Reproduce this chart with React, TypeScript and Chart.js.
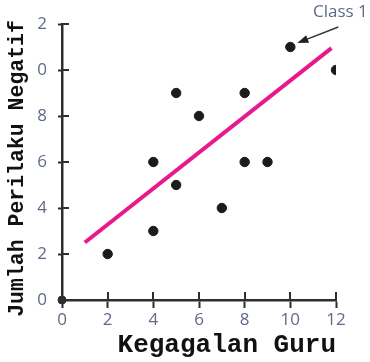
import React, { useEffect, useRef } from 'react';
import { Chart, registerables } from 'chart.js';

Chart.register(...registerables);

// ---- data ----
const xTickLabels = ['0', '2', '4', '6', '8', '10', '12'];
const yTickLabels = ['0', '2', '4', '6', '8', '0', '2'];
const teacherFailures = [2, 4, 4, 5, 5, 6, 7, 8, 8, 9, 10, 12];
const negativeBehaviours = [2, 3, 6, 5, 9, 8, 4, 9, 6, 6, 11, 10];
const trendX = [1, 11.8];
const trendY = [2.5, 10.95];
const originX = [0];
const originY = [0];
const annotationLabel = 'Class 1';
const annotatedIndex = 10;
const xTitle = 'Kegagalan Guru';
const yTitle = 'Jumlah Perilaku Negatif ';

const AXIS = '#2e2e2e';
const LABEL = '#5d6a88';
const DOT = '#1b1b1b';
const PINK = '#e8198b';

const innerTicks = {
  id: 'innerTicks',
  beforeDatasetsDraw(chart: any) {
    const { ctx, chartArea } = chart;
    const x = chart.scales.x;
    const y = chart.scales.y;
    ctx.save();
    ctx.strokeStyle = AXIS;
    ctx.lineWidth = 2;
    x.ticks.forEach((t: any) => {
      if (t.value === 0) return;
      const px = Math.round(x.getPixelForValue(t.value));
      ctx.beginPath();
      ctx.moveTo(px, chartArea.bottom);
      ctx.lineTo(px, chartArea.bottom - 8);
      ctx.stroke();
    });
    y.ticks.forEach((t: any) => {
      if (t.value === 0) return;
      const py = Math.round(y.getPixelForValue(t.value));
      ctx.beginPath();
      ctx.moveTo(chartArea.left, py);
      ctx.lineTo(chartArea.left + 7, py);
      ctx.stroke();
    });
    ctx.restore();
  },
};

const annotation = {
  id: 'annotation',
  afterDatasetsDraw(chart: any) {
    const meta = chart.getDatasetMeta(0);
    const el = meta.data[annotatedIndex];
    if (!el) return;
    const { ctx } = chart;
    const tipX = el.x + 7;
    const tipY = el.y - 4;
    const tailX = el.x + 48;
    const tailY = el.y - 20;
    ctx.save();
    ctx.strokeStyle = '#333';
    ctx.fillStyle = '#222';
    ctx.lineWidth = 1.4;
    ctx.beginPath();
    ctx.moveTo(tailX, tailY);
    ctx.lineTo(tipX + 6, tipY - 2.4);
    ctx.stroke();
    const ang = Math.atan2(tipY - tailY, tipX - tailX);
    const len = 11;
    const half = 4;
    const bx = tipX - len * Math.cos(ang);
    const by = tipY - len * Math.sin(ang);
    ctx.beginPath();
    ctx.moveTo(tipX, tipY);
    ctx.lineTo(bx + half * Math.sin(ang), by - half * Math.cos(ang));
    ctx.lineTo(bx - half * Math.sin(ang), by + half * Math.cos(ang));
    ctx.closePath();
    ctx.fill();
    ctx.fillStyle = LABEL;
    ctx.font = '17px "Open Sans"';
    ctx.textAlign = 'center';
    ctx.textBaseline = 'middle';
    ctx.fillText(annotationLabel, el.x + 50, el.y - 35);
    ctx.restore();
  },
};

export default function App() {
  const ref = useRef<HTMLCanvasElement | null>(null);

  useEffect(() => {
    if (!ref.current) return;
    const chart = new Chart(ref.current, {
      type: 'scatter',
      data: {
        datasets: [
          {
            label: 'Kelas',
            data: teacherFailures.map((v, i) => ({ x: v, y: negativeBehaviours[i] })),
            backgroundColor: DOT,
            borderColor: DOT,
            pointRadius: 4.7,
            pointHoverRadius: 4.7,
            order: 1,
          },
          {
            label: 'Trend',
            type: 'line',
            data: trendX.map((v, i) => ({ x: v, y: trendY[i] })),
            borderColor: PINK,
            borderWidth: 4,
            pointRadius: 0,
            fill: false,
            order: 2,
          } as any,
          {
            label: 'Origin',
            data: originX.map((v, i) => ({ x: v, y: originY[i] })),
            backgroundColor: AXIS,
            borderColor: AXIS,
            pointRadius: 4,
            clip: false,
            order: 0,
          } as any,
        ],
      },
      options: {
        animation: false,
        responsive: true,
        maintainAspectRatio: false,
        layout: { padding: { top: 24, right: 34, left: 0, bottom: 0 } },
        plugins: {
          legend: { display: false },
          tooltip: { enabled: false },
        },
        scales: {
          x: {
            type: 'linear',
            min: 0,
            max: 12,
            afterFit: (s: any) => {
              s.height = 62;
            },
            border: { display: true, color: AXIS, width: 2.5 },
            grid: {
              display: true,
              drawOnChartArea: false,
              drawTicks: true,
              tickLength: 8,
              tickColor: AXIS,
              tickWidth: 2,
              color: AXIS,
            },
            ticks: {
              stepSize: 2,
              padding: 2,
              color: LABEL,
              font: { family: '"Open Sans"', size: 17 },
              callback: (_v: any, i: number) => xTickLabels[i],
            },
            title: {
              display: true,
              text: xTitle,
              align: 'end',
              color: '#111',
              font: { family: '"Liberation Mono"', size: 26, weight: 'bold' },
              padding: { top: 0, bottom: 1 },
            },
          },
          y: {
            type: 'linear',
            min: 0,
            max: 12,
            afterFit: (s: any) => {
              s.width = 62;
            },
            border: { display: true, color: AXIS, width: 2.5 },
            grid: {
              display: true,
              drawOnChartArea: false,
              drawTicks: true,
              tickLength: 4,
              tickColor: AXIS,
              tickWidth: 2,
              color: AXIS,
            },
            ticks: {
              stepSize: 2,
              padding: 11,
              color: LABEL,
              font: { family: '"Open Sans"', size: 17 },
              callback: (_v: any, i: number) => yTickLabels[i],
            },
            title: {
              display: true,
              text: yTitle,
              color: '#111',
              font: { family: '"Liberation Mono"', size: 21.5, weight: 'bold' },
              padding: { top: 5, bottom: 0 },
            },
          },
        },
      },
      plugins: [innerTicks, annotation],
    });
    return () => chart.destroy();
  }, []);

  return (
    <div style={{ position: 'absolute', left: 0, top: 0, width: 370, height: 362 }}>
      <canvas ref={ref} />
    </div>
  );
}
